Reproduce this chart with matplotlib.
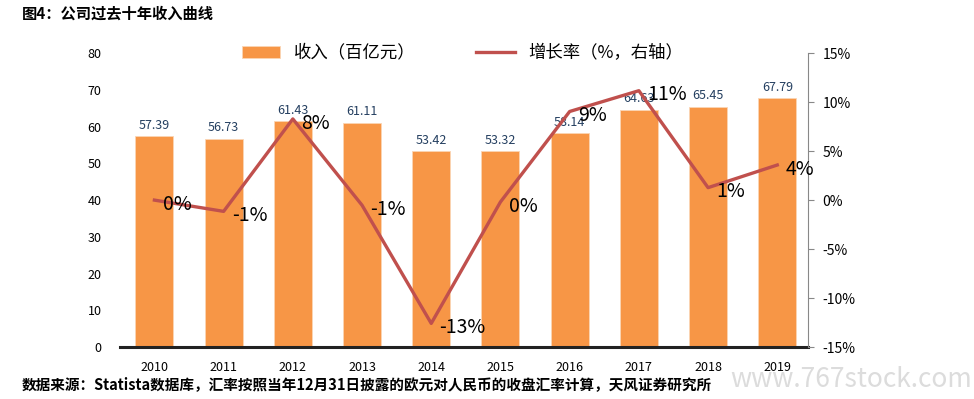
import numpy as np
import matplotlib.pyplot as plt

plt.rcParams['font.family'] = ['Noto Sans CJK SC', 'DejaVu Sans']

years = ['2010', '2011', '2012', '2013', '2014', '2015', '2016', '2017', '2018', '2019']
revenue = [57.39, 56.73, 61.43, 61.11, 53.42, 53.32, 58.14, 64.63, 65.45, 67.79]
growth = [0.0, -1.15, 8.28, -0.52, -12.58, -0.19, 9.04, 11.16, 1.27, 3.58]
growth_labels = ['0%', '-1%', '8%', '-1%', '-13%', '0%', '9%', '11%', '1%', '4%']

bar_color = '#F79646'
line_color = '#C0504D'

fig = plt.figure(figsize=(9.74, 3.99), dpi=100)
ax = fig.add_axes([0.123, 0.130, 0.707, 0.737])
x = np.arange(len(years))

bars = ax.bar(x, revenue, width=0.55, color=bar_color, edgecolor='#FBD5B5', linewidth=0.6,
              label='收入（百亿元）', zorder=2)
for xi, v in zip(x, revenue):
    ax.annotate(f'{v:.2f}', (xi, v), xytext=(0, 3), textcoords='offset points',
                ha='center', va='bottom', fontsize=9, color='#243F60', zorder=5)

ax.set_ylim(0, 80)
ax.set_yticks(range(0, 81, 10))
ax.set_xlim(-0.5, 9.45)
ax.set_xticks(x)
ax.set_xticklabels(years, fontsize=9)
ax.tick_params(axis='y', length=0, pad=13, labelsize=9)
ax.tick_params(axis='x', length=0, pad=10)
for s in ['top', 'right', 'left']:
    ax.spines[s].set_visible(False)
ax.spines['bottom'].set_linewidth(2.2)
ax.spines['bottom'].set_color('#222222')

ax2 = ax.twinx()
line, = ax2.plot(x, growth, color=line_color, linewidth=2.4, label='增长率（%，右轴）', zorder=3)
for xi, g, t in zip(x, growth, growth_labels):
    ax2.annotate(t, (xi, g), xytext=(6, -3), textcoords='offset points',
                 ha='left', va='center', fontsize=14, color='black', zorder=6)
ax2.set_ylim(-15, 15)
ax2.set_yticks(range(-15, 16, 5))
ax2.set_yticklabels([f'{v}%' for v in range(-15, 16, 5)], fontsize=10)
for s in ['top', 'left', 'bottom']:
    ax2.spines[s].set_visible(False)
ax2.spines['right'].set_color('#888888')
ax2.tick_params(axis='y', length=4, color='#888888', pad=6)

fig.legend(handles=[bars, line], loc='center', bbox_to_anchor=(0.475, 0.868), ncol=2,
           frameon=False, fontsize=12.5, handlelength=2.2, columnspacing=3.5)

fig.text(0.022, 0.965, '图4：公司过去十年收入曲线', fontsize=11, fontweight='bold', va='center')
fig.text(0.022, 0.038, '数据来源：Statista数据库，汇率按照当年12月31日披露的欧元对人民币的收盘汇率计算，天风证券研究所',
         fontsize=10.5, fontweight='bold', va='center')
fig.text(0.998, 0.05, 'www.767stock.com', fontsize=19, color='#dcdcdc', ha='right', va='center')

fig.savefig('out.png', dpi=100)
